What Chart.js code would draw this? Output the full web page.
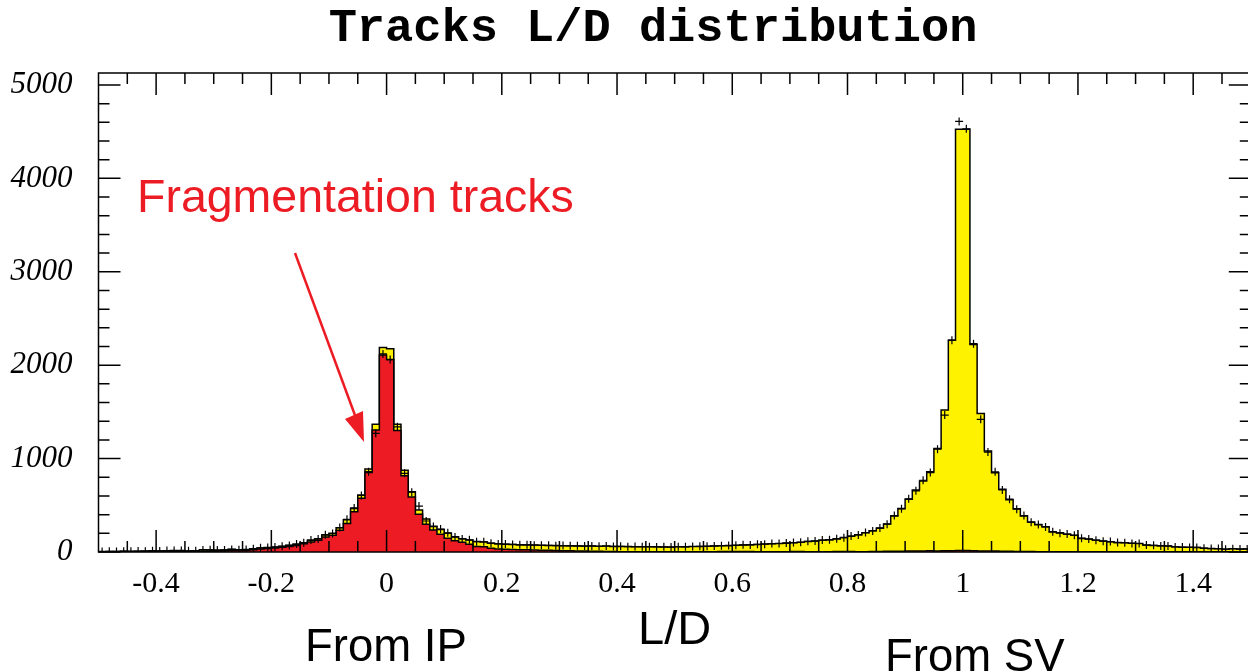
<!DOCTYPE html>
<html>
<head>
<meta charset="utf-8">
<script src="https://cdn.jsdelivr.net/npm/chart.js@4.4.1/dist/chart.umd.min.js"></script>
<style>
  html, body { margin:0; padding:0; background:#fff; overflow:hidden; }
  #wrap { width:1256px; height:672px; }
</style>
</head>
<body>
<div id="wrap"><canvas id="grafico" width="1256" height="672"></canvas></div>
<script>
// histogram binning: 160 bins of L/D from -0.5 to 1.5
const binLo = -0.5;
const binW = 0.0125;

// all tracks (yellow, stacked total)
const totalTracks = [
  5, 6, 6, 8, 8, 9, 10, 14, 10, 14,
  16, 15, 12, 14, 24, 22, 20, 22, 30, 24,
  26, 36, 44, 48, 52, 60, 71, 82, 100, 125,
  142, 182, 200, 260, 346, 467, 610, 888, 1367, 2190,
  2175, 1367, 875, 645, 449, 352, 276, 240, 200, 164,
  142, 128, 112, 108, 93, 88, 84, 80, 78, 76,
  74, 72, 70, 69, 68, 67, 65, 64, 64, 62,
  63, 60, 60, 58, 57, 57, 56, 55, 54, 54,
  55, 56, 58, 60, 62, 64, 66, 68, 72, 75,
  77, 80, 85, 88, 92, 95, 100, 105, 112, 118,
  125, 132, 140, 155, 168, 185, 205, 228, 255, 300,
  385, 467, 564, 663, 760, 860, 1109, 1519, 2268, 4526,
  4526, 2222, 1484, 1081, 849, 671, 560, 462, 385, 320,
  292, 271, 215, 205, 190, 180, 145, 140, 125, 118,
  110, 103, 98, 93, 90, 75, 70, 66, 64, 55,
  52, 50, 48, 40, 38, 36, 30, 34, 32, 32
];

// fragmentation tracks (red)
const fragTracks = [
  2, 2, 2, 2, 2, 3, 3, 3, 4, 4,
  4, 4, 4, 6, 8, 9, 10, 12, 15, 17,
  20, 25, 32, 38, 44, 50, 60, 70, 88, 108,
  125, 160, 180, 232, 305, 432, 575, 850, 1306, 2108,
  2062, 1300, 815, 590, 405, 298, 235, 189, 146, 121,
  105, 84, 60, 56, 40, 33, 30, 27, 25, 23,
  21, 20, 18, 16, 14, 13, 12, 11, 8, 7,
  6, 5, 4, 4, 4, 4, 3, 3, 3, 3,
  3, 3, 3, 3, 4, 4, 5, 5, 6, 6,
  5, 4, 4, 4, 4, 4, 5, 5, 4, 4,
  4, 4, 5, 6, 5, 4, 4, 5, 6, 7,
  8, 9, 10, 12, 12, 14, 12, 14, 14, 16,
  16, 14, 12, 12, 10, 8, 7, 6, 5, 5,
  4, 4, 3, 3, 3, 3, 3, 3, 3, 2,
  2, 2, 2, 2, 2, 2, 2, 2, 2, 2,
  2, 2, 2, 2, 2, 2, 2, 2, 2, 2
];

// data points (crosses)
const dataPoints = [
  5, 7, 6, 9, 8, 10, 9, 13, 11, 15,
  15, 16, 13, 14, 22, 23, 21, 22, 28, 25,
  27, 35, 45, 47, 54, 62, 70, 85, 98, 128,
  140, 185, 198, 262, 350, 472, 605, 860, 1270, 2120,
  2060, 1340, 842, 640, 492, 332, 272, 245, 206, 160,
  140, 130, 110, 110, 95, 86, 85, 81, 77, 78,
  73, 72, 71, 68, 69, 66, 66, 63, 65, 61,
  64, 60, 61, 57, 58, 56, 57, 54, 55, 53,
  56, 55, 59, 61, 61, 65, 67, 70, 71, 77,
  76, 82, 84, 90, 91, 97, 101, 104, 115, 117,
  128, 130, 143, 153, 170, 183, 208, 226, 258, 298,
  390, 462, 570, 655, 768, 850, 1100, 1466, 2268, 4610,
  4530, 2230, 1420, 1070, 858, 665, 566, 458, 390, 318,
  295, 268, 218, 202, 192, 178, 148, 138, 127, 116,
  112, 101, 99, 92, 91, 74, 71, 65, 65, 54,
  53, 49, 49, 41, 37, 37, 30, 35, 31, 33
];

const xTicks = [-0.4, -0.2, 0, 0.2, 0.4, 0.6, 0.8, 1, 1.2, 1.4];
const yTicks = [0, 1000, 2000, 3000, 4000, 5000];

function stepPoints(vals) {
  const pts = [];
  vals.forEach((v, i) => {
    const a = binLo + i * binW;
    pts.push({x: a, y: v}, {x: a + binW, y: v});
  });
  return pts;
}
function centerPoints(vals) {
  return vals.map((v, i) => ({x: binLo + (i + 0.5) * binW, y: v}));
}

// frame + inward ticks on the four sides, like the original plot
const marcoPlugin = {
  id: 'marco',
  afterDatasetsDraw(chart) {
    const {ctx, chartArea: a, scales: {x, y}} = chart;
    ctx.save();
    ctx.strokeStyle = '#000';
    ctx.lineWidth = 1.5;
    ctx.beginPath();
    for (let v = -0.45; v < 1.5; v += 0.05) {
      const px = x.getPixelForValue(v);
      const major = Math.abs(v / 0.2 - Math.round(v / 0.2)) < 1e-6;
      const len = major ? 22 : 11;
      ctx.moveTo(px, a.bottom); ctx.lineTo(px, a.bottom - len);
      ctx.moveTo(px, a.top); ctx.lineTo(px, a.top + len);
    }
    for (let v = 0; v <= 5100; v += 200) {
      const py = y.getPixelForValue(v);
      const len = v % 1000 === 0 ? 22 : 11;
      ctx.moveTo(a.left, py); ctx.lineTo(a.left + len, py);
      ctx.moveTo(a.right, py); ctx.lineTo(a.right - len, py);
    }
    ctx.stroke();
    ctx.lineWidth = 1.5;
    ctx.strokeRect(a.left, a.top, a.right - a.left, a.bottom - a.top);
    ctx.restore();
  }
};

// title, labels and arrow
const notasPlugin = {
  id: 'notas',
  afterDraw(chart) {
    const ctx = chart.ctx;
    ctx.save();
    ctx.fillStyle = '#000';
    ctx.textAlign = 'center';
    ctx.textBaseline = 'middle';
    ctx.font = 'bold 47px "Liberation Mono", "Courier New", monospace';
    ctx.fillText('Tracks L/D distribution', 653, 29);

    ctx.font = '46.5px "Liberation Sans", Arial, sans-serif';
    ctx.textBaseline = 'alphabetic';
    ctx.textAlign = 'left';
    ctx.fillStyle = '#ed1c24';
    ctx.fillText('Fragmentation tracks', 137, 212);
    ctx.fillStyle = '#000';
    ctx.font = '45.5px "Liberation Sans", Arial, sans-serif';
    ctx.fillText('From IP', 305, 661);
    ctx.fillText('From SV', 885, 671);

    // arrow
    ctx.strokeStyle = '#ed1c24';
    ctx.fillStyle = '#ed1c24';
    ctx.lineWidth = 2.5;
    ctx.beginPath();
    ctx.moveTo(295, 253);
    ctx.lineTo(356, 418);
    ctx.stroke();
    ctx.beginPath();
    ctx.moveTo(364, 442);
    ctx.lineTo(345, 419);
    ctx.lineTo(363, 411);
    ctx.closePath();
    ctx.fill();
    ctx.restore();
  }
};

new Chart(document.getElementById('grafico'), {
  type: 'line',
  data: {
    datasets: [
      {
        label: 'Data',
        data: centerPoints(dataPoints),
        showLine: false,
        pointStyle: 'cross',
        pointRadius: 4,
        borderColor: '#000',
        backgroundColor: '#000',
        borderWidth: 1.2,
        order: 0
      },
      {
        label: 'Fragmentation tracks',
        data: stepPoints(fragTracks),
        borderColor: '#000',
        borderWidth: 1.5,
        backgroundColor: '#ed1c24',
        fill: 'origin',
        pointRadius: 0,
        tension: 0,
        order: 1
      },
      {
        label: 'All tracks',
        data: stepPoints(totalTracks),
        borderColor: '#000',
        borderWidth: 1.5,
        backgroundColor: '#fff200',
        fill: 'origin',
        pointRadius: 0,
        tension: 0,
        order: 2
      }
    ]
  },
  options: {
    responsive: false,
    devicePixelRatio: 1,
    animation: false,
    layout: { padding: { left: 0, right: 3.5, top: 73, bottom: 0 } },
    plugins: {
      legend: { display: false },
      tooltip: { enabled: false },
      title: { display: false }
    },
    scales: {
      x: {
        type: 'linear',
        min: -0.5,
        max: 1.5,
        grid: { display: false, drawTicks: false },
        border: { display: false },
        afterBuildTicks: s => { s.ticks = xTicks.map(v => ({value: v})); },
        afterFit: s => { s.height = 120; },
        ticks: {
          color: '#000',
          padding: 14,
          maxRotation: 0,
          autoSkip: false,
          font: { family: '"Liberation Serif", "Times New Roman", serif', size: 30 },
          callback: v => String(Math.round(v * 10) / 10)
        },
        title: {
          display: true,
          text: 'L/D',
          color: '#000',
          font: { family: '"Liberation Sans", Arial, sans-serif', size: 47 },
          padding: { top: 0, bottom: 13 }
        }
      },
      y: {
        min: 0,
        max: 5128,
        grid: { display: false, drawTicks: false },
        border: { display: false },
        afterBuildTicks: s => { s.ticks = yTicks.map(v => ({value: v})); },
        afterFit: s => { s.width = 98.5; },
        ticks: {
          color: '#000',
          padding: 26,
          font: { family: '"Liberation Serif", "Times New Roman", serif', size: 31, style: 'italic' },
          callback: v => String(v)
        }
      }
    }
  },
  plugins: [marcoPlugin, notasPlugin]
});
</script>
</body>
</html>
